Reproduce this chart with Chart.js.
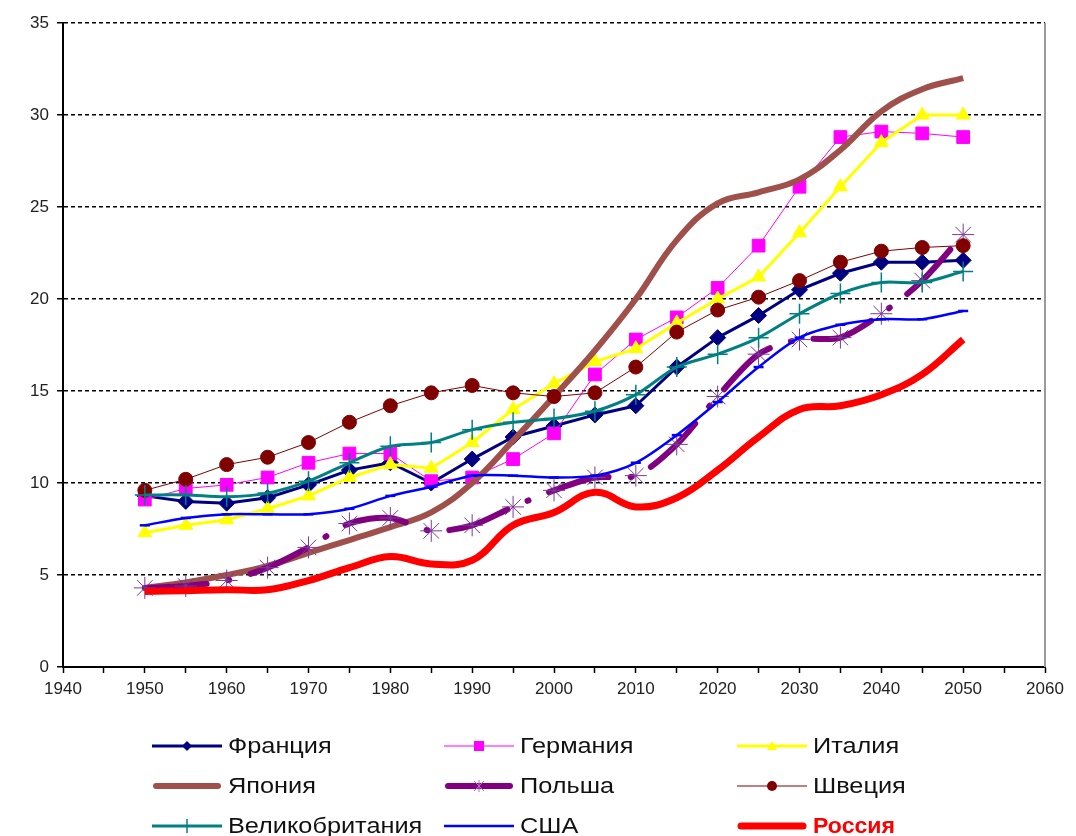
<!DOCTYPE html>
<html>
<head>
<meta charset="utf-8">
<script src="https://cdn.jsdelivr.net/npm/chart.js@4/dist/chart.umd.min.js"></script>
<style>
  html, body { margin: 0; padding: 0; background: #fff; }
  canvas { display: block; }
</style>
</head>
<body>
<canvas id="c" width="1076" height="836"></canvas>
<script>
// ---- data ----
const years = [1950,1955,1960,1965,1970,1975,1980,1985,1990,1995,2000,2005,2010,2015,2020,2025,2030,2035,2040,2045,2050];
const seriesNames = ["Франция","Германия","Италия","Япония","Польша","Швеция","Великобритания","США","Россия"];
const france  = [9.3, 9.0, 8.9, 9.2, 9.9, 10.7, 11.1, 10.0, 11.3, 12.5, 13.1, 13.7, 14.2, 16.3, 17.9, 19.1, 20.5, 21.4, 22.0, 22.0, 22.1];
const germany = [9.1, 9.7, 9.9, 10.3, 11.1, 11.6, 11.6, 10.1, 10.3, 11.3, 12.7, 15.9, 17.8, 19.0, 20.6, 22.9, 26.1, 28.8, 29.1, 29.0, 28.8];
const italy   = [7.3, 7.7, 8.0, 8.6, 9.3, 10.3, 11.0, 10.8, 12.2, 14.0, 15.4, 16.6, 17.3, 18.7, 20.0, 21.2, 23.6, 26.1, 28.5, 30.0, 30.0];
const japan   = [4.3, 4.6, 5.0, 5.5, 6.2, 6.9, 7.6, 8.4, 10.0, 12.3, 14.7, 17.2, 20.0, 23.2, 25.2, 25.8, 26.5, 28.1, 30.2, 31.4, 32.0];
const poland  = [4.3, 4.4, 4.7, 5.4, 6.5, 7.8, 8.1, 7.4, 7.7, 8.7, 9.6, 10.3, 10.4, 12.1, 14.7, 17.0, 17.8, 17.9, 19.2, 21.0, 23.5];
const sweden  = [9.6, 10.2, 11.0, 11.4, 12.2, 13.3, 14.2, 14.9, 15.3, 14.9, 14.7, 14.9, 16.3, 18.2, 19.4, 20.1, 21.0, 22.0, 22.6, 22.8, 22.9];
const uk      = [9.35, 9.35, 9.25, 9.45, 10.1, 11.1, 12.0, 12.2, 12.9, 13.3, 13.5, 13.9, 14.8, 16.3, 17.0, 17.9, 19.2, 20.3, 20.9, 20.9, 21.5];
const usa     = [7.7, 8.1, 8.3, 8.3, 8.3, 8.6, 9.3, 9.8, 10.4, 10.4, 10.3, 10.4, 11.1, 12.6, 14.4, 16.3, 17.9, 18.6, 18.9, 18.9, 19.35];
const russia  = [4.1, 4.15, 4.2, 4.2, 4.7, 5.4, 6.0, 5.6, 5.8, 7.7, 8.4, 9.5, 8.7, 9.2, 10.7, 12.5, 14.0, 14.2, 14.8, 15.9, 17.8];
const xTickMin = 1940, xTickMax = 2060, xStep = 5;
const yTickMin = 0, yTickMax = 35, yStep = 5;

const toPts = arr => years.map((x, i) => ({x: x, y: arr[i]}));

// ---- styles ----
const styles = [
  {color:'#000080', width:3, pointStyle:'rectRot', radius:8, pointBorderWidth:1, tension:0},
  {color:'#FF00FF', width:1, pointStyle:'rect', radius:9, pointBorderWidth:1, tension:0},
  {color:'#FFFF00', width:3, pointStyle:'triangle', radius:8, pointBorderWidth:1, tension:0},
  {color:'#A0504B', width:6, pointStyle:false, radius:0, tension:0.4},
  {color:'#800080', width:6, pointStyle:'star', radius:11, pointBorderWidth:1, pointColor:'#7A3A9A', tension:0.3, dash:[62,22,1,22]},
  {color:'#800000', width:1, pointStyle:'circle', radius:7, pointBorderWidth:1, tension:0},
  {color:'#008080', width:3, pointStyle:'cross', radius:10, pointBorderWidth:1.5, tension:0.3},
  {color:'#0000FF', width:2.5, pointStyle:'line', radius:5, pointBorderWidth:2.5, tension:0.3},
  {color:'#FF0000', width:7, pointStyle:false, radius:0, tension:0.4}
];
const values = [france, germany, italy, japan, poland, sweden, uk, usa, russia];

const datasets = values.map((arr, i) => {
  const s = styles[i];
  return {
    label: seriesNames[i],
    data: toPts(arr),
    borderColor: s.color,
    backgroundColor: s.color,
    borderWidth: s.width,
    borderDash: s.dash || [],
    borderCapStyle: s.dash ? 'round' : 'butt',
    borderJoinStyle: 'round',
    pointStyle: s.pointStyle || 'circle',
    pointRadius: s.radius,
    pointHoverRadius: s.radius,
    pointBorderWidth: s.pointBorderWidth || 0,
    pointBackgroundColor: s.pointColor || s.color,
    pointBorderColor: s.pointColor || s.color,
    tension: s.tension,
    cubicInterpolationMode: 'default',
    order: values.length - i,
    fill: false
  };
});

function drawMarker(ctx, style, x, y, r, color, bw) {
  ctx.save();
  ctx.fillStyle = color; ctx.strokeStyle = color; ctx.lineWidth = bw || 1;
  ctx.beginPath();
  switch (style) {
    case 'rectRot': ctx.moveTo(x, y - r); ctx.lineTo(x + r, y); ctx.lineTo(x, y + r); ctx.lineTo(x - r, y); ctx.closePath(); ctx.fill(); break;
    case 'rect': ctx.rect(x - r, y - r, 2*r, 2*r); ctx.fill(); break;
    case 'triangle': ctx.moveTo(x, y - r); ctx.lineTo(x + r, y + r*0.8); ctx.lineTo(x - r, y + r*0.8); ctx.closePath(); ctx.fill(); break;
    case 'circle': ctx.arc(x, y, r, 0, Math.PI*2); ctx.fill(); break;
    case 'star': ctx.moveTo(x - r, y - r); ctx.lineTo(x + r, y + r); ctx.moveTo(x + r, y - r); ctx.lineTo(x - r, y + r); ctx.moveTo(x, y - r*1.2); ctx.lineTo(x, y + r*1.2); ctx.stroke(); break;
    case 'cross': ctx.moveTo(x, y - r); ctx.lineTo(x, y + r); ctx.stroke(); break;
    default: break;
  }
  ctx.restore();
}

const legendPlugin = {
  id: 'gridLegend',
  afterDraw(chart) {
    const ctx = chart.ctx;
    const colX = [152, 444, 737];
    const rowY = [746, 786, 826];
    const sampleW = 70;
    chart.data.datasets.forEach((ds, i) => {
      const col = i % 3, row = Math.floor(i / 3);
      const x0 = colX[col], y = rowY[row];
      const s = styles[i];
      ctx.save();
      ctx.strokeStyle = s.color;
      ctx.lineWidth = Math.min(s.width, 7);
      ctx.lineCap = s.width >= 6 ? 'round' : 'butt';
      ctx.beginPath();
      ctx.moveTo(x0 + (s.width >= 6 ? 4 : 0), y);
      ctx.lineTo(x0 + sampleW - (s.width >= 6 ? 4 : 0), y);
      ctx.stroke();
      ctx.restore();
      const mx = x0 + sampleW / 2;
      if (s.pointStyle === 'rectRot') drawMarker(ctx, 'rectRot', mx, y, 5, s.color);
      else if (s.pointStyle === 'rect') drawMarker(ctx, 'rect', mx, y, 5, s.color);
      else if (s.pointStyle === 'triangle') drawMarker(ctx, 'triangle', mx, y, 5, s.color);
      else if (s.pointStyle === 'circle') drawMarker(ctx, 'circle', mx, y, 5, s.color);
      else if (s.pointStyle === 'star') drawMarker(ctx, 'star', mx, y, 5, '#B070C0', 1);
      else if (s.pointStyle === 'cross') drawMarker(ctx, 'cross', mx, y, 7, s.color, 1.5);
      ctx.save();
      const isRu = (i === 8);
      ctx.font = (isRu ? 'bold ' : '') + '22px "Liberation Sans", Arial, sans-serif';
      ctx.fillStyle = isRu ? '#FF0000' : '#111';
      ctx.textBaseline = 'middle';
      ctx.textAlign = 'left';
      ctx.translate(x0 + sampleW + 6, y + 1);
      ctx.scale(isRu ? 1.05 : 1.15, 1);
      ctx.fillText(ds.label, 0, 0);
      ctx.restore();
    });
    // right border of plot area
    const a = chart.chartArea;
    ctx.save();
    ctx.strokeStyle = '#9a9a9a';
    ctx.lineWidth = 2;
    ctx.beginPath();
    ctx.moveTo(a.right, a.top);
    ctx.lineTo(a.right, a.bottom);
    ctx.stroke();
    ctx.restore();
  }
};

const tickFont = { family: '"Liberation Sans", Arial, sans-serif', size: 17 };

const chart = new Chart(document.getElementById('c'), {
  type: 'line',
  data: { datasets: datasets },
  plugins: [legendPlugin],
  options: {
    responsive: false,
    animation: false,
    devicePixelRatio: 1,
    layout: { padding: { top: 23, right: 31, left: 0, bottom: 0 } },
    plugins: { legend: { display: false }, tooltip: { enabled: false } },
    scales: {
      x: {
        type: 'linear',
        min: xTickMin, max: xTickMax,
        afterFit(scale) { scale.height = 169; },
        ticks: {
          stepSize: xStep, autoSkip: false, maxRotation: 0, padding: 6,
          color: '#222', font: tickFont,
          callback: v => (v % 10 === 0 ? String(v) : '')
        },
        grid: { drawOnChartArea: false, drawTicks: true, tickLength: 6, tickColor: '#000', tickWidth: 1.5 },
        border: { display: true, color: '#000', width: 2 }
      },
      y: {
        min: yTickMin, max: yTickMax,
        afterFit(scale) { scale.width = 63; },
        ticks: {
          stepSize: yStep, padding: 8,
          color: '#222', font: tickFont
        },
        grid: {
          color: c => (c.tick && c.tick.value === 0 ? 'rgba(0,0,0,0)' : '#000'),
          lineWidth: 1.5, tickLength: 6, tickColor: '#000', tickWidth: 1.5
        },
        border: { display: true, color: '#000', width: 2, dash: [4, 3] }
      }
    }
  }
});
</script>
</body>
</html>
